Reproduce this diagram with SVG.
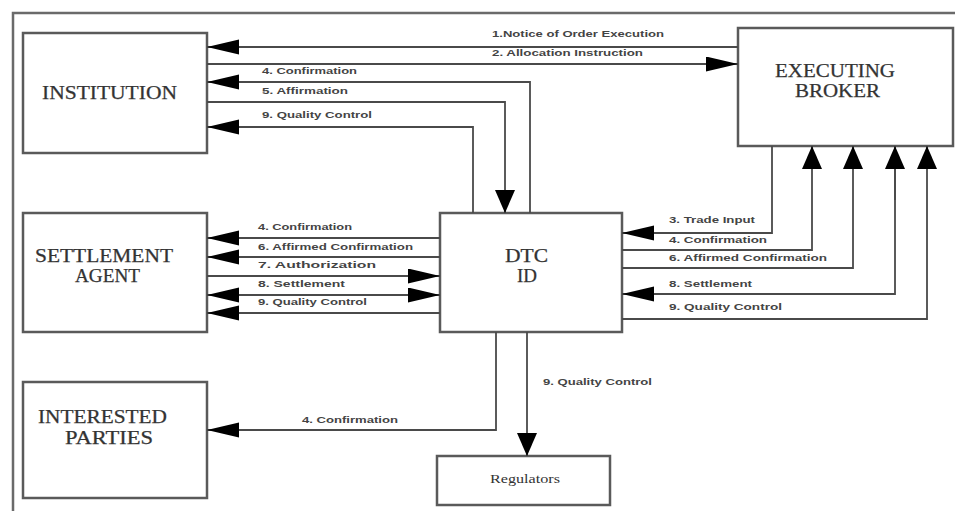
<svg xmlns="http://www.w3.org/2000/svg" width="955" height="511" viewBox="0 0 955 511">
<defs>
<style>
.box{fill:#fff;stroke:#5a5a5a;stroke-width:2.5}
.frame{fill:none;stroke:#6a6a6a;stroke-width:2.5}
.ln{fill:none;stroke:#4a4a4a;stroke-width:1.8}
.nt{font-family:"Liberation Serif","Times New Roman",serif;font-size:18px;fill:#333;stroke:#333;stroke-width:0.25;text-anchor:middle}
.sm{font-family:"Liberation Serif","Times New Roman",serif;font-size:13px;fill:#333;text-anchor:middle}
.lb{font-family:"Liberation Sans",Arial,sans-serif;font-size:9.5px;font-weight:bold;fill:#444}
</style>
<marker id="ah" markerUnits="userSpaceOnUse" markerWidth="34" markerHeight="16" refX="32" refY="7.5" orient="auto-start-reverse" viewBox="0 0 34 16">
<path d="M0,0 L32,7.5 L0,15 Z" fill="#000"/>
</marker>
<marker id="av" markerUnits="userSpaceOnUse" markerWidth="24" markerHeight="22" refX="23" refY="10" orient="auto-start-reverse" viewBox="0 0 24 22">
<path d="M0,0 L23,10 L0,20 Z" fill="#000"/>
</marker>
</defs>
<rect width="955" height="511" fill="#fff"/>
<path class="frame" d="M13,511 V13 H955"/>

<g id="institution"><rect class="box" x="23" y="33" width="184" height="120"/><text class="nt" x="109.5" y="99" textLength="135" lengthAdjust="spacingAndGlyphs">INSTITUTION</text></g>
<g id="executing-broker"><rect class="box" x="738" y="28" width="215" height="118"/><text class="nt" x="835" y="77" textLength="120" lengthAdjust="spacingAndGlyphs">EXECUTING</text><text class="nt" x="837.5" y="97" textLength="85" lengthAdjust="spacingAndGlyphs">BROKER</text></g>
<g id="settlement-agent"><rect class="box" x="23" y="213" width="184" height="119"/><text class="nt" x="104" y="262" textLength="138" lengthAdjust="spacingAndGlyphs">SETTLEMENT</text><text class="nt" x="107.5" y="282" textLength="65" lengthAdjust="spacingAndGlyphs">AGENT</text></g>
<g id="dtc-id"><rect class="box" x="440" y="213" width="182" height="119"/><text class="nt" x="526.5" y="262" textLength="43" lengthAdjust="spacingAndGlyphs">DTC</text><text class="nt" x="527" y="282" textLength="20" lengthAdjust="spacingAndGlyphs">ID</text></g>
<g id="interested-parties"><rect class="box" x="23" y="382" width="184" height="116"/><text class="nt" x="102.5" y="423" textLength="129" lengthAdjust="spacingAndGlyphs">INTERESTED</text><text class="nt" x="109" y="444" textLength="88" lengthAdjust="spacingAndGlyphs">PARTIES</text></g>
<g id="regulators"><rect class="box" x="437" y="456" width="173" height="49"/><text class="sm" x="525" y="483" textLength="70" lengthAdjust="spacingAndGlyphs">Regulators</text></g>

<g id="connectors">
<path class="ln" d="M738,47 H207" marker-end="url(#ah)"/>
<path class="ln" d="M207,64 H738" marker-end="url(#ah)"/>
<path class="ln" d="M530,213 V82 H207" marker-end="url(#ah)"/>
<path class="ln" d="M207,102 H505 V213" marker-end="url(#av)"/>
<path class="ln" d="M473,213 V127 H207" marker-end="url(#ah)"/>

<path class="ln" d="M440,238 H207" marker-end="url(#ah)"/>
<path class="ln" d="M440,257 H207" marker-end="url(#ah)"/>
<path class="ln" d="M207,276 H440" marker-end="url(#ah)"/>
<path class="ln" d="M207,295 H440" marker-start="url(#ah)" marker-end="url(#ah)"/>
<path class="ln" d="M440,313 H207" marker-end="url(#ah)"/>

<path class="ln" d="M772,146 V233 H622" marker-end="url(#ah)"/>
<path class="ln" d="M622,250 H812 V146" marker-end="url(#av)"/>
<path class="ln" d="M622,268 H853 V146" marker-end="url(#av)"/>
<path class="ln" d="M895,146 V294 H622" marker-end="url(#ah)"/>
<path class="ln" d="M895,200 V146" marker-end="url(#av)"/>
<path class="ln" d="M622,319 H927 V146" marker-end="url(#av)"/>

<path class="ln" d="M496,332 V430 H207" marker-end="url(#ah)"/>
<path class="ln" d="M527,332 V456" marker-end="url(#av)"/>

<text class="lb" x="492" y="37" textLength="172" lengthAdjust="spacingAndGlyphs">1.Notice of Order Execution</text>
<text class="lb" x="492" y="56" textLength="151" lengthAdjust="spacingAndGlyphs">2. Allocation Instruction</text>
<text class="lb" x="262" y="74" textLength="95" lengthAdjust="spacingAndGlyphs">4. Confirmation</text>
<text class="lb" x="262" y="94" textLength="86" lengthAdjust="spacingAndGlyphs">5. Affirmation</text>
<text class="lb" x="262" y="118" textLength="110" lengthAdjust="spacingAndGlyphs">9. Quality Control</text>

<text class="lb" x="258" y="230" textLength="94" lengthAdjust="spacingAndGlyphs">4. Confirmation</text>
<text class="lb" x="258" y="250" textLength="155" lengthAdjust="spacingAndGlyphs">6. Affirmed Confirmation</text>
<text class="lb" x="258" y="268" textLength="118" lengthAdjust="spacingAndGlyphs">7. Authorization</text>
<text class="lb" x="258" y="287" textLength="87" lengthAdjust="spacingAndGlyphs">8. Settlement</text>
<text class="lb" x="258" y="305" textLength="109" lengthAdjust="spacingAndGlyphs">9. Quality Control</text>

<text class="lb" x="669" y="223" textLength="86" lengthAdjust="spacingAndGlyphs">3. Trade Input</text>
<text class="lb" x="669" y="243" textLength="98" lengthAdjust="spacingAndGlyphs">4. Confirmation</text>
<text class="lb" x="669" y="261" textLength="158" lengthAdjust="spacingAndGlyphs">6. Affirmed Confirmation</text>
<text class="lb" x="669" y="287" textLength="83" lengthAdjust="spacingAndGlyphs">8. Settlement</text>
<text class="lb" x="669" y="310" textLength="113" lengthAdjust="spacingAndGlyphs">9. Quality Control</text>

<text class="lb" x="543" y="385" textLength="109" lengthAdjust="spacingAndGlyphs">9. Quality Control</text>
<text class="lb" x="302" y="423" textLength="96" lengthAdjust="spacingAndGlyphs">4. Confirmation</text>
</g>
</svg>
